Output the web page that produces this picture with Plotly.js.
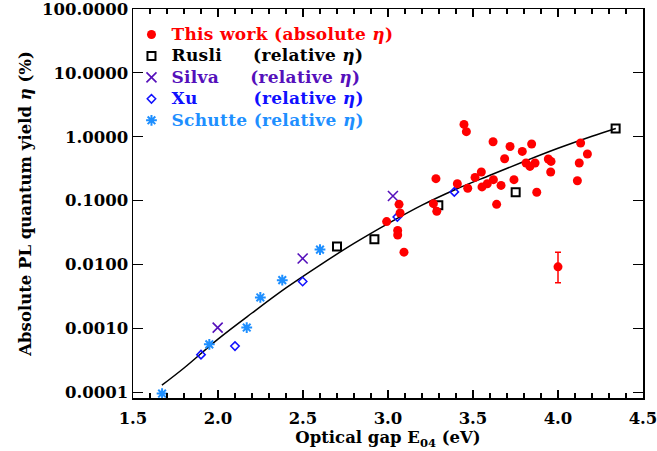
<!DOCTYPE html>
<html>
<head>
<meta charset="utf-8">
<script src="https://cdn.plot.ly/plotly-3.0.1.min.js"></script>
<style>html,body{margin:0;padding:0;background:#fff;}#chart{width:657px;height:451px;}</style>
</head>
<body>
<div id="chart"></div>
<script>
// ---- data ----
const thisX = [3.447, 3.461, 3.618, 3.686, 3.718, 3.282, 3.408, 3.512, 3.549, 3.469, 3.553, 3.584, 3.620, 3.665, 3.639, 3.267, 3.287, 3.065, 3.071, 2.992, 3.057, 3.057, 3.094, 3.845, 3.790, 4.133, 4.173, 4.125, 4.114, 3.943, 3.959, 3.957, 3.812, 3.835, 3.865, 3.741, 3.875];
const thisY = [1.56, 1.20, 0.835, 0.453, 0.705, 0.221, 0.184, 0.231, 0.281, 0.156, 0.164, 0.184, 0.213, 0.173, 0.0875, 0.0897, 0.068, 0.0875, 0.064, 0.047, 0.034, 0.029, 0.0156, 0.769, 0.589, 0.798, 0.537, 0.388, 0.205, 0.449, 0.411, 0.281, 0.388, 0.343, 0.388, 0.213, 0.135];
const errX = [4.00];
const errY = [0.0092];
const errPlus = [0.0064];
const errMinus = [0.0040];
const rusliX = [2.700, 2.920, 3.296, 3.751, 4.339];
const rusliY = [0.0191, 0.0248, 0.0845, 0.135, 1.35];
const silvaX = [1.998, 2.498, 3.029];
const silvaY = [0.00103, 0.0124, 0.118];
const xuX = [1.900, 2.100, 2.498, 3.055, 3.390];
const xuY = [0.000388, 0.000528, 0.00542, 0.0556, 0.137];
const schutteX = [1.671, 1.949, 2.169, 2.249, 2.378, 2.600];
const schutteY = [0.0000955, 0.000562, 0.00103, 0.00305, 0.00569, 0.0171];
const fitX = [1.67, 1.8, 2.0, 2.2, 2.4, 2.6, 2.8, 3.0, 3.2, 3.4, 3.6, 3.8, 4.0, 4.2, 4.34];
const fitY = [0.000129, 0.00024, 0.00068, 0.00174, 0.0043, 0.0098, 0.0214, 0.0437, 0.085, 0.151, 0.25, 0.41, 0.66, 1.02, 1.35];
const yTickVals = [0.0001, 0.001, 0.01, 0.1, 1, 10, 100];
const yTickText = ["0.0001", "0.0010", "0.0100", "0.1000", "1.0000", "10.0000", "100.0000"];
const xTickVals = [1.5, 2.0, 2.5, 3.0, 3.5, 4.0, 4.5];
const xTickText = ["1.5", "2.0", "2.5", "3.0", "3.5", "4.0", "4.5"];

const FONT = "DejaVu Serif";
const RED = "#ff0000", PURPLE = "#5510bb", BLUE = "#1010ff", LBLUE = "#1e8fff";
const sp = n => "\u00A0".repeat(n);
const eta = "<i>η</i>";
const lg = (color, txt) => '<span style="color:' + color + ';font-size:17px;font-weight:bold;letter-spacing:0.3px">' + txt + '</span>';

const traces = [
  {x: fitX, y: fitY, mode: "lines", line: {color: "#000", width: 1.5, shape: "spline"}, showlegend: false, hoverinfo: "skip"},
  {x: rusliX, y: rusliY, mode: "markers", name: lg("#000", "Rusli" + sp(5) + "(relative " + eta + ")"),
   marker: {symbol: "square-open", size: 8, color: "#000", line: {width: 2, color: "#000"}}, legendrank: 2},
  {x: silvaX, y: silvaY, mode: "markers", name: lg(PURPLE, "Silva" + sp(5) + "(relative " + eta + ")"),
   marker: {symbol: "x-thin-open", size: 10, color: PURPLE, line: {width: 1.6, color: PURPLE}}, legendrank: 3},
  {x: xuX, y: xuY, mode: "markers", name: lg(BLUE, "Xu" + sp(9) + "(relative " + eta + ")"),
   marker: {symbol: "diamond-open", size: 6.5, color: BLUE, line: {width: 1.5, color: BLUE}}, legendrank: 4},
  {x: schutteX, y: schutteY, mode: "markers", name: lg(LBLUE, "Schutte" + sp(1) + "(relative " + eta + ")"),
   marker: {symbol: "asterisk-open", size: 9, color: LBLUE, line: {width: 2, color: LBLUE}}, legendrank: 5},
  {x: errX, y: errY, mode: "markers", showlegend: false, marker: {symbol: "circle", size: 9, color: RED},
   error_y: {type: "data", array: errPlus, arrayminus: errMinus, color: RED, thickness: 1.5, width: 3}},
  {x: thisX, y: thisY, mode: "markers", name: lg(RED, "This work (absolute " + eta + ")"),
   marker: {symbol: "circle", size: 9, color: RED}, legendrank: 1}
];

const axisCommon = {
  showgrid: false, zeroline: false, showline: true, linecolor: "#000", linewidth: 1.5,
  mirror: "allticks", ticks: "inside", tickcolor: "#000", tickwidth: 1.2,
  ticklabeloverflow: "allow",
  tickfont: {family: FONT, size: 16.5, color: "#000", weight: "bold"}
};

const layout = {
  width: 657, height: 451,
  margin: {l: 133, r: 14, t: 9, b: 53},
  paper_bgcolor: "#fff", plot_bgcolor: "#fff",
  showlegend: true,
  legend: {x: -0.003, y: 0.975, xanchor: "left", yanchor: "top", bgcolor: "rgba(0,0,0,0)", borderwidth: 0,
           font: {family: FONT, size: 14.2, color: "#000"}, tracegroupgap: 0, itemclick: false},
  xaxis: Object.assign({}, axisCommon, {
    range: [1.5, 4.5], tickvals: xTickVals, ticktext: xTickText, ticklen: 8,
    ticklabelstandoff: 5,
    minor: {dtick: 0.1, ticks: "inside", ticklen: 5, tickcolor: "#000", tickwidth: 1.2, showgrid: false},
    title: {text: "Optical gap E<sub>04</sub> (eV)", font: {family: FONT, size: 16.5, color: "#000", weight: "bold"}, standoff: 2}
  }),
  yaxis: Object.assign({}, axisCommon, {
    type: "log", range: [-4.09, 2], tickvals: yTickVals, ticktext: yTickText, ticklen: 10,
    title: {text: "Absolute PL quantum yield " + eta + " (%)", font: {family: FONT, size: 16.5, color: "#000", weight: "bold"}, standoff: 6}
  })
};

Plotly.newPlot("chart", traces, layout, {staticPlot: true, displayModeBar: false});
</script>
</body>
</html>
